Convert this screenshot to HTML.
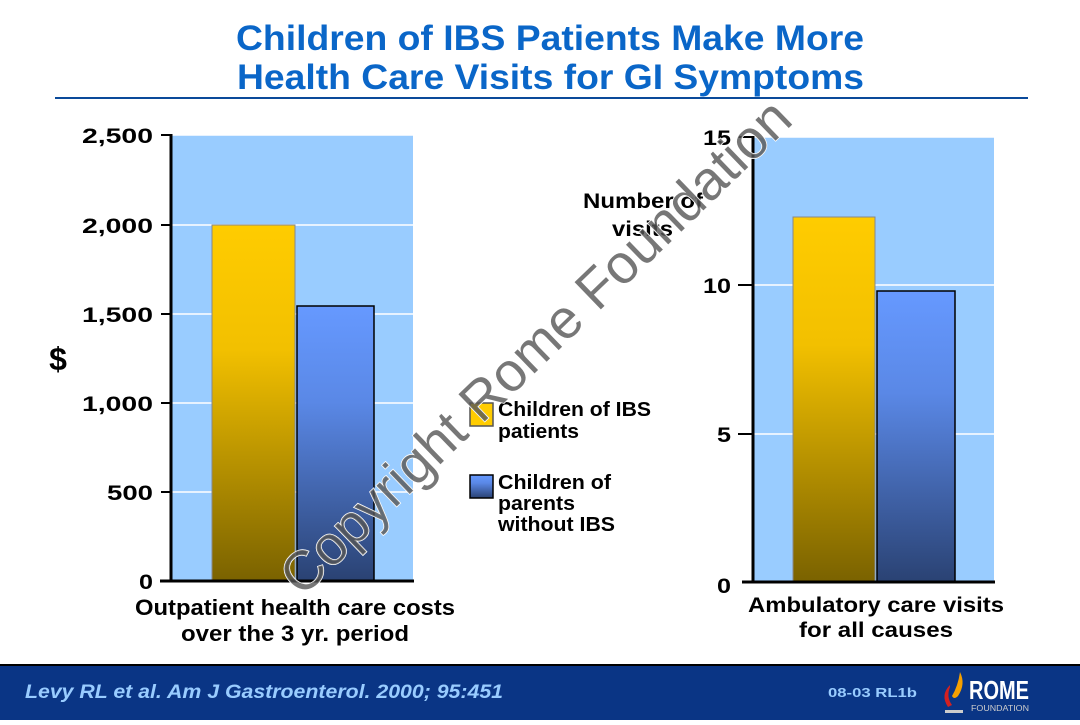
<!DOCTYPE html>
<html><head><style>
body{margin:0;width:1080px;height:720px;overflow:hidden;background:#fff;font-family:"Liberation Sans",Arial,sans-serif}
</style></head><body>
<svg width="1080" height="720" xmlns="http://www.w3.org/2000/svg" font-family="Liberation Sans, Arial, sans-serif">
<defs>
<linearGradient id="gy" x1="0" y1="0" x2="0" y2="1"><stop offset="0" stop-color="#ffcc00"/><stop offset="0.35" stop-color="#f2c000"/><stop offset="1" stop-color="#7a6200"/></linearGradient>
<linearGradient id="gb" x1="0" y1="0" x2="0" y2="1"><stop offset="0" stop-color="#6699ff"/><stop offset="0.35" stop-color="#5a88e6"/><stop offset="1" stop-color="#2a4273"/></linearGradient>
</defs>
<g font-size="35" font-weight="bold" fill="#0a66c8">
<text x="236" y="50" textLength="628" lengthAdjust="spacingAndGlyphs">Children of IBS Patients Make More</text>
<text x="237" y="89" textLength="627" lengthAdjust="spacingAndGlyphs">Health Care Visits for GI Symptoms</text>
</g>
<line x1="55" y1="98" x2="1028" y2="98" stroke="#0a4a9a" stroke-width="2"/>
<!-- left chart -->
<rect x="171" y="135" width="242" height="446" fill="#99ccff"/>
<g stroke="#fff" stroke-width="1.5"><line x1="171" y1="135" x2="413" y2="135"/><line x1="171" y1="225" x2="413" y2="225"/><line x1="171" y1="314" x2="413" y2="314"/><line x1="171" y1="403" x2="413" y2="403"/><line x1="171" y1="492" x2="413" y2="492"/></g>
<rect x="212" y="225" width="83" height="356" fill="url(#gy)" stroke="#888" stroke-width="1"/>
<rect x="297" y="306" width="77" height="275" fill="url(#gb)" stroke="#000" stroke-width="1.5"/>
<g stroke="#000" stroke-width="3"><line x1="171" y1="134" x2="171" y2="582"/><line x1="160" y1="581" x2="414" y2="581"/></g>
<g stroke="#000" stroke-width="2"><line x1="161" y1="135" x2="171" y2="135"/><line x1="161" y1="225" x2="171" y2="225"/><line x1="161" y1="314" x2="171" y2="314"/><line x1="161" y1="403" x2="171" y2="403"/><line x1="161" y1="492" x2="171" y2="492"/></g>
<g font-size="21" font-weight="bold" fill="#000">
<text x="82" y="143" textLength="71" lengthAdjust="spacingAndGlyphs">2,500</text>
<text x="82" y="233" textLength="71" lengthAdjust="spacingAndGlyphs">2,000</text>
<text x="82" y="322" textLength="71" lengthAdjust="spacingAndGlyphs">1,500</text>
<text x="82" y="411" textLength="71" lengthAdjust="spacingAndGlyphs">1,000</text>
<text x="107" y="500" textLength="46" lengthAdjust="spacingAndGlyphs">500</text>
<text x="139" y="589" textLength="14" lengthAdjust="spacingAndGlyphs">0</text>
</g>
<text x="58" y="370" text-anchor="middle" font-size="32" font-weight="bold">$</text>
<g font-size="22" font-weight="bold">
<text x="135" y="615" textLength="320" lengthAdjust="spacingAndGlyphs">Outpatient health care costs</text>
<text x="181" y="641" textLength="228" lengthAdjust="spacingAndGlyphs">over the 3 yr. period</text>
</g>
<!-- right chart -->
<rect x="753" y="137" width="241" height="445" fill="#99ccff"/>
<g stroke="#fff" stroke-width="1.5"><line x1="753" y1="137" x2="994" y2="137"/><line x1="753" y1="285" x2="994" y2="285"/><line x1="753" y1="434" x2="994" y2="434"/></g>
<rect x="793" y="217" width="82" height="365" fill="url(#gy)" stroke="#888" stroke-width="1"/>
<rect x="877" y="291" width="78" height="291" fill="url(#gb)" stroke="#000" stroke-width="1.5"/>
<g stroke="#000" stroke-width="3"><line x1="753" y1="136" x2="753" y2="583"/><line x1="742" y1="582" x2="995" y2="582"/></g>
<g stroke="#000" stroke-width="2"><line x1="738" y1="137" x2="753" y2="137"/><line x1="738" y1="285" x2="753" y2="285"/><line x1="738" y1="434" x2="753" y2="434"/></g>
<g font-size="21" font-weight="bold">
<text x="703" y="145" textLength="28" lengthAdjust="spacingAndGlyphs">15</text>
<text x="703" y="293" textLength="28" lengthAdjust="spacingAndGlyphs">10</text>
<text x="717" y="442" textLength="14" lengthAdjust="spacingAndGlyphs">5</text>
<text x="717" y="593" textLength="14" lengthAdjust="spacingAndGlyphs">0</text>
</g>
<g font-size="21" font-weight="bold">
<text x="583" y="208" textLength="120" lengthAdjust="spacingAndGlyphs">Number of</text>
<text x="612" y="236" textLength="61" lengthAdjust="spacingAndGlyphs">visits</text>
<text x="748" y="612" textLength="256" lengthAdjust="spacingAndGlyphs">Ambulatory care visits</text>
<text x="799" y="637" textLength="154" lengthAdjust="spacingAndGlyphs">for all causes</text>
</g>
<!-- legend -->
<rect x="470" y="403" width="23" height="23" fill="#ffcc00" stroke="#555" stroke-width="1.5"/>
<rect x="470" y="475" width="23" height="23" fill="url(#gb)" stroke="#000" stroke-width="1.5"/>
<g font-size="20" font-weight="bold">
<text x="498" y="416" textLength="153" lengthAdjust="spacingAndGlyphs">Children of IBS</text>
<text x="498" y="438" textLength="81" lengthAdjust="spacingAndGlyphs">patients</text>
<text x="498" y="489" textLength="113" lengthAdjust="spacingAndGlyphs">Children of</text>
<text x="498" y="510" textLength="77" lengthAdjust="spacingAndGlyphs">parents</text>
<text x="498" y="531" textLength="117" lengthAdjust="spacingAndGlyphs">without IBS</text>
</g>
<!-- watermark -->
<text x="0" y="0" transform="translate(302,598) rotate(-44)" font-size="55" fill="#555" fill-opacity="0.8" stroke="#fff" stroke-width="1.5" paint-order="stroke" textLength="685" lengthAdjust="spacingAndGlyphs">Copyright Rome Foundation</text>
<!-- footer -->
<rect x="0" y="664" width="1080" height="56" fill="#0a3585"/>
<line x1="0" y1="665" x2="1080" y2="665" stroke="#000" stroke-width="2"/>
<text x="25" y="698" font-size="19" font-weight="bold" font-style="italic" fill="#99ccff" textLength="478" lengthAdjust="spacingAndGlyphs">Levy RL et al. Am J Gastroenterol. 2000; 95:451</text>
<text x="828" y="697" font-size="13" font-weight="bold" fill="#99ccff" textLength="89" lengthAdjust="spacingAndGlyphs">08-03  RL1b</text>
<path d="M950 685 q-10 10 -2 22 l4 -2 q-6 -8 -2 -18z" fill="#d42020"/>
<path d="M960 672 q6 12 -2 24 q-4 4 -6 0 q6 -10 8 -24z" fill="#f5a000"/>
<rect x="945" y="710" width="18" height="3" fill="#ccc"/>
<text x="969" y="699" font-size="26" font-weight="bold" fill="#fff" textLength="60" lengthAdjust="spacingAndGlyphs">ROME</text>
<text x="971" y="711" font-size="8" fill="#ccc" textLength="58" lengthAdjust="spacingAndGlyphs">FOUNDATION</text>
</svg>
</body></html>
